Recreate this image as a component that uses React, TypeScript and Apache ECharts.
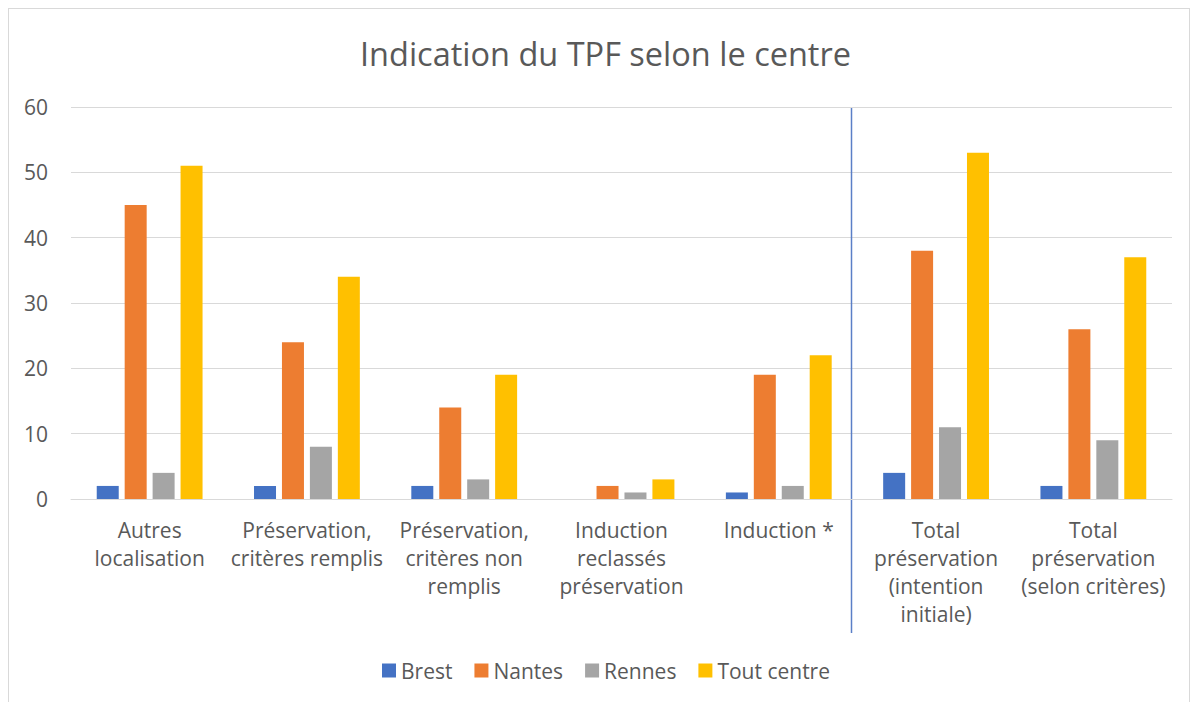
import React, { useEffect, useRef } from "react";
import * as echarts from "echarts";

const categories = [
  "Autres\nlocalisation",
  "Préservation,\ncritères remplis",
  "Préservation,\ncritères non\nremplis",
  "Induction\nreclassés\npréservation",
  "Induction *",
  "Total\npréservation\n(intention\ninitiale)",
  "Total\npréservation\n(selon critères)",
];
const brest = [2, 2, 2, 0, 1, 4, 2];
const nantes = [45, 24, 14, 2, 19, 38, 26];
const rennes = [4, 8, 3, 1, 2, 11, 9];
const toutCentre = [51, 34, 19, 3, 22, 53, 37];
const seriesNames = ["Brest", "Nantes", "Rennes", "Tout centre"];
const seriesColors = ["#4472C4", "#ED7D31", "#A5A5A5", "#FFC000"];

const FONT = "'Open Sans', Lato, sans-serif";

export default function App() {
  const ref = useRef<HTMLDivElement>(null);
  useEffect(() => {
    if (!ref.current) return;
    const chart = echarts.init(ref.current, undefined, { renderer: "svg" });
    const values = [brest, nantes, rennes, toutCentre];
    chart.setOption({
      animation: false,
      textStyle: { fontFamily: FONT },
      title: {
        text: "Indication du TPF selon le centre",
        left: 346,
        top: 23,
        textStyle: { fontFamily: FONT, fontSize: 32.5, fontWeight: "normal", color: "#595959" },
      },
      legend: {
        top: 651,
        left: 373,
        padding: 0,
        itemWidth: 14,
        itemHeight: 14,
        itemGap: 22,
        icon: "rect",
        textStyle: { fontFamily: FONT, fontSize: 21, color: "#595959" },
        data: seriesNames,
      },
      grid: { left: 62, right: 17, top: 98, bottom: 206 },
      xAxis: {
        type: "category",
        data: categories,
        axisLine: { lineStyle: { color: "#d9d9d9", width: 1 } },
        axisTick: { show: false },
        axisLabel: {
          interval: 0,
          margin: 17,
          fontSize: 21,
          lineHeight: 28,
          color: "#595959",
          fontFamily: FONT,
        },
      },
      yAxis: {
        type: "value",
        min: 0,
        max: 60,
        interval: 10,
        axisLine: { show: false },
        axisTick: { show: false },
        splitLine: { lineStyle: { color: "#d9d9d9", width: 1 } },
        axisLabel: { fontSize: 21, color: "#595959", margin: 23, fontFamily: FONT },
      },
      series: seriesNames.map((name, i) => ({
        name,
        type: "bar",
        data: values[i],
        barWidth: 22,
        barGap: "27%",
        itemStyle: { color: seriesColors[i] },
      })),
    });
    const p4 = chart.convertToPixel({ xAxisIndex: 0 }, categories[4]) as number;
    const p5 = chart.convertToPixel({ xAxisIndex: 0 }, categories[5]) as number;
    const x = Math.round((p4 + p5) / 2 - 6) + 0.5;
    const yTop = chart.convertToPixel({ yAxisIndex: 0 }, 60) as number;
    chart.setOption({
      graphic: [
        {
          type: "line",
          shape: { x1: x, y1: yTop + 1, x2: x, y2: 624 },
          style: { stroke: "#5B7FC7", lineWidth: 1.5 },
        },
      ],
    });
    return () => chart.dispose();
  }, []);
  return (
    <div style={{ width: 1182, height: 698, border: "1px solid #d9d9d9", boxSizing: "border-box", background: "#fff" }}>
      <div ref={ref} style={{ width: 1180, height: 696 }} />
    </div>
  );
}
